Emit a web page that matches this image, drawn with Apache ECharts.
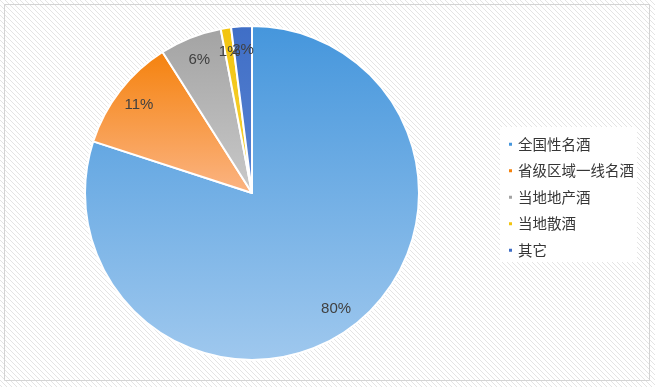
<!DOCTYPE html>
<html><head><meta charset="utf-8">
<script src="https://cdn.jsdelivr.net/npm/echarts@6/dist/echarts.min.js"></script>
<style>html,body{margin:0;padding:0;background:#fff}#c{width:655px;height:387px}</style>
</head><body><div id="c"></div>
<script>
const categories = ['全国性名酒','省级区域一线名酒','当地地产酒','当地散酒','其它'];
const values = [80, 11, 6, 1, 2];
const topColors = ['#4596dc','#f5820d','#a3a3a3','#f2c40f','#3f6ec6'];
const bottomColors = ['#9fc8ee','#fbb483','#c9c9c9','#f7d23a','#5a84d2'];

function hatch(){
  const c = document.createElement('canvas'); c.width = 5; c.height = 5;
  const g = c.getContext('2d');
  g.fillStyle = '#ffffff'; g.fillRect(0,0,5,5);
  g.strokeStyle = '#e4e4e4'; g.lineWidth = 1;
  g.beginPath(); g.moveTo(-1,-1); g.lineTo(6,6); g.moveTo(-1,4); g.lineTo(1,6); g.moveTo(4,-1); g.lineTo(6,1); g.stroke();
  return c;
}

const chart = echarts.init(document.getElementById('c'), null, {renderer:'canvas'});
const mainData = categories.map((n,i)=>({
  name:n, value:values[i],
  itemStyle:{color:new echarts.graphic.LinearGradient(0,0,0,1,[{offset:0,color:topColors[i]},{offset:1,color:bottomColors[i]}])}
}));
const labelData = categories.map((n,i)=>({name:n, value:values[i]}));
chart.setOption({
  backgroundColor:{image:hatch(), repeat:'repeat'},
  animation:false,
  graphic:[
    {type:'rect', shape:{x:4.5,y:4.5,width:645,height:376}, style:{fill:'none',stroke:'#d4d4d4',lineWidth:1}, silent:true, z:-1},
    {type:'rect', shape:{x:500,y:127,width:137,height:135}, style:{fill:'#ffffff'}, silent:true, z:-1}
  ],
  legend:{
    orient:'vertical', left:502, top:132, icon:'rect', itemWidth:5, itemHeight:5, itemGap:12,
    textStyle:{fontSize:14.5, color:'#363636', fontFamily:'"Noto Sans CJK SC", sans-serif'},
    data:categories.map((n,i)=>({name:n, itemStyle:{color:topColors[i]}}))
  },
  series:[
    {type:'pie', center:[252,193], radius:[0,167], startAngle:90, clockwise:true,
     label:{show:false}, labelLine:{show:false},
     itemStyle:{borderColor:'#ffffff', borderWidth:2},
     data:mainData},
    {type:'pie', center:[252,193], radius:[116,164], startAngle:90, clockwise:true, silent:true,
     avoidLabelOverlap:false, labelLayout:{hideOverlap:false},
     itemStyle:{color:'rgba(0,0,0,0)'}, labelLine:{show:false},
     label:{show:true, position:'inside', formatter:'{c}%', color:'#404040', fontSize:15, fontFamily:'"Liberation Sans", Arial, sans-serif'},
     data:labelData}
  ]
});
</script></body></html>
